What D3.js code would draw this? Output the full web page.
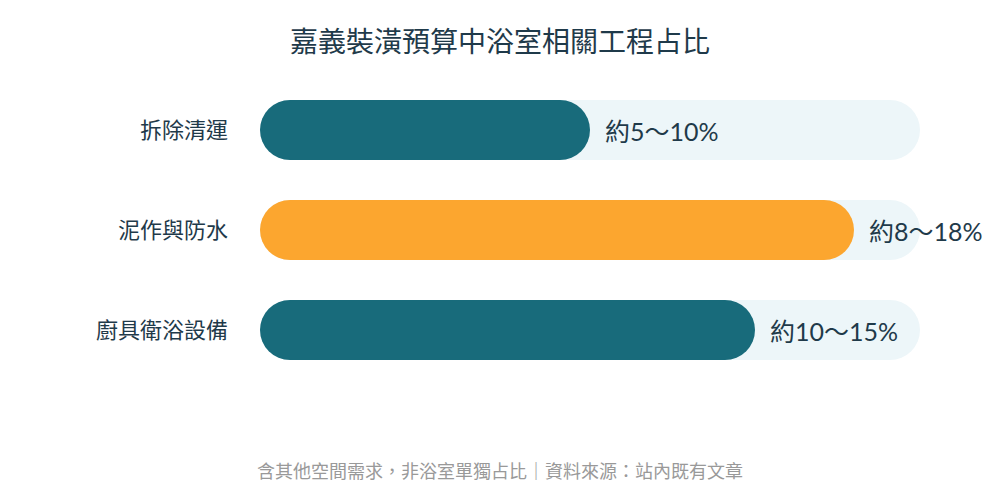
<!DOCTYPE html>
<html lang="zh-Hant">
<head>
  <meta charset="utf-8">
  <title>嘉義裝潢預算中浴室相關工程占比</title>
  <script src="https://d3js.org/d3.v7.min.js"></script>
  <style>
    body { margin: 0; background: #fff; }
    text { font-family: "Lato", "Noto Sans CJK TC", sans-serif; }
  </style>
</head>
<body>
<script>
  // chart data
  var categories = ["拆除清運", "泥作與防水", "廚具衛浴設備"];
  var lowValues = [5, 8, 10];
  var highValues = [10, 18, 15];
  var valueLabels = ["約5～10%", "約8～18%", "約10～15%"];
  var barColors = ["#186b7b", "#fca62f", "#186b7b"];

  var w = 1000, h = 500;
  var left = 260, right = 920;

  var svg = d3.select("body").append("svg")
    .attr("width", w)
    .attr("height", h);

  var x = d3.scaleLinear().domain([0, 20]).range([left, right]);
  var y = d3.scaleBand().domain(categories).range([80, 380]).paddingInner(0.4).paddingOuter(0.2);
  var bh = y.bandwidth();

  svg.append("text")
    .attr("x", 500).attr("y", 52)
    .attr("text-anchor", "middle")
    .attr("font-size", 28)
    .attr("fill", "#1f3a4a")
    .text("嘉義裝潢預算中浴室相關工程占比");

  var rows = svg.selectAll("g.row")
    .data(categories)
    .enter().append("g")
    .attr("class", "row");

  // background track
  rows.append("rect")
    .attr("x", x(0))
    .attr("y", function (d) { return y(d); })
    .attr("width", x(20) - x(0))
    .attr("height", bh)
    .attr("rx", bh / 2)
    .attr("fill", "#edf6f9");

  rows.append("rect")
    .attr("x", x(0))
    .attr("y", function (d) { return y(d); })
    .attr("width", function (d, i) { return x(highValues[i]) - x(0); })
    .attr("height", bh)
    .attr("rx", bh / 2)
    .attr("fill", function (d, i) { return barColors[i]; });

  rows.append("text")
    .attr("x", left - 32)
    .attr("y", function (d) { return y(d) + bh / 2; })
    .attr("dy", "0.35em")
    .attr("text-anchor", "end")
    .attr("font-size", 22)
    .attr("fill", "#1f3a4a")
    .text(function (d) { return d; });

  rows.append("text")
    .attr("x", function (d, i) { return x(highValues[i]) + 15; })
    .attr("y", function (d) { return y(d) + bh / 2 + 2; })
    .attr("dy", "0.35em")
    .attr("font-size", 25)
    .attr("fill", "#1f3a4a")
    .text(function (d, i) { return valueLabels[i]; });

  svg.append("text")
    .attr("x", 500).attr("y", 478)
    .attr("text-anchor", "middle")
    .attr("font-size", 18)
    .attr("fill", "#999")
    .text("含其他空間需求，非浴室單獨占比｜資料來源：站內既有文章");
</script>
</body>
</html>
